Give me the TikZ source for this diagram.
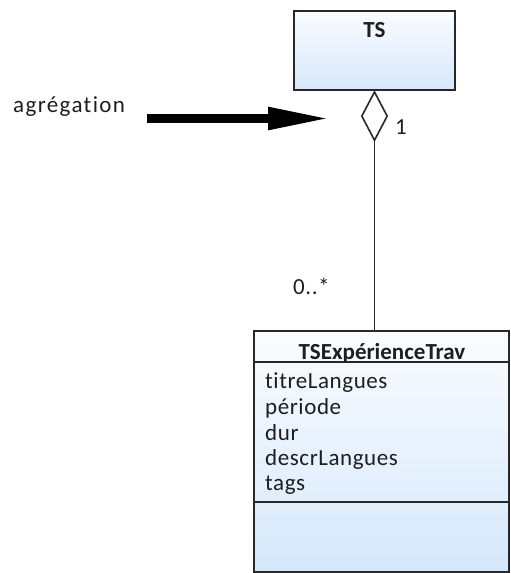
\documentclass[tikz,border=0pt]{standalone}
\usepackage{fontspec}
\setmainfont[Ligatures=NoCommon]{Carlito}
\newfontfamily\widefont[LetterSpace=6,Ligatures=NoCommon]{Carlito}
\newfontfamily\midfont[LetterSpace=2.5,Ligatures=NoCommon]{Carlito}
\usetikzlibrary{shapes.geometric,arrows.meta}
\definecolor{boxblue}{RGB}{213,232,251}
\definecolor{boxtop}{RGB}{250,252,255}
\definecolor{ink}{RGB}{30,30,30}
\definecolor{edge}{RGB}{40,40,40}
\tikzset{
  x=1pt, y=-1pt,
  every node/.style={font=\midfont\fontsize{23}{27}\selectfont, text=ink, inner sep=0pt},
  umlbox/.style={draw=edge, line width=1.6pt, top color=boxtop, bottom color=boxblue, minimum width=#1},
  lbl/.style={anchor=base west},
  ttl/.style={anchor=base, font=\fontsize{23}{27}\selectfont\bfseries},
  link/.style={draw=edge, line width=1.5pt},
}
\begin{document}
\begin{tikzpicture}
\useasboundingbox (0,0) rectangle (511,573);
% TS class
\node[umlbox=161pt, minimum height=79pt] (ts) at (374.5,50.5) {};
\node[ttl] (tsname) at (374.5,37.5) {TS};
% aggregation diamond
\node[diamond, draw=edge, line width=1.6pt, fill=white, minimum width=26pt, minimum height=49pt, inner sep=0pt, anchor=north] (dia) at (ts.south) {};
% TSExperienceTrav class
\node[umlbox=255pt, minimum height=241pt] (cls) at (381.5,451.5) {};
\coordinate (s1w) at (254,362); \coordinate (s1e) at (509,362);
\coordinate (s2w) at (254,502); \coordinate (s2e) at (509,502);
\draw[link] (s1w) -- (s1e);
\draw[link] (s2w) -- (s2e);
\node[ttl] (clsname) at (382,359.5) {TSExpérienceTrav};
\node[lbl] (a1) at (265,388) {titreLangues};
\node[lbl] (a2) at (265,414) {période};
\node[lbl] (a3) at (265,440) {dur};
\node[lbl] (a4) at (265,465.5) {descrLangues};
\node[lbl] (a5) at (265,490.5) {tags};
% association line
\draw[link] (dia.south) -- (dia.south |- cls.north);
\node[lbl] (m1) at (395,134) {1};
\node[lbl] (m2) at (293,294) {0..*};
% annotation arrow
\node[lbl, font=\widefont\fontsize{23}{27}\selectfont] (agg) at (13,112) {agrégation};
\coordinate (arrS) at (147,118.5);
\coordinate (arrE) at (330,118.5);
\draw[line width=8.5pt, -{Triangle[length=62pt,width=21pt]}] (arrS) -- (arrE);
\end{tikzpicture}
\end{document}
